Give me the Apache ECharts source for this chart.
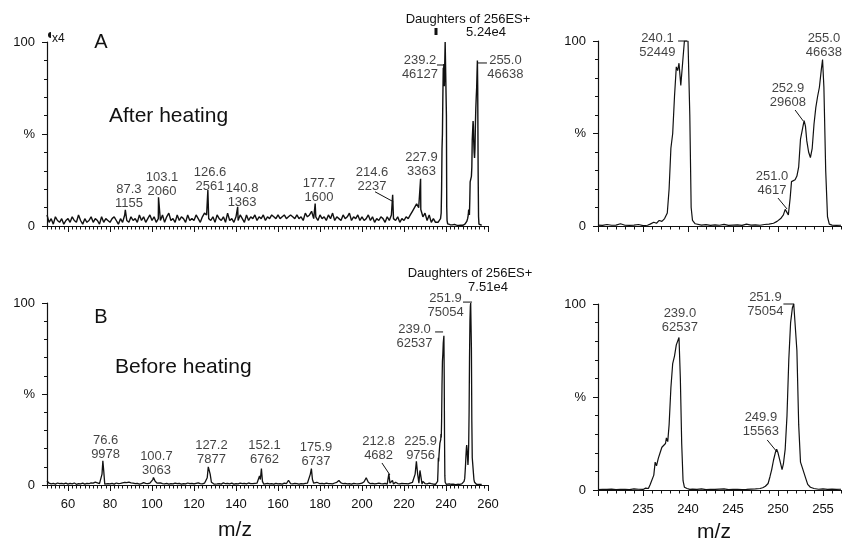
<!DOCTYPE html>
<html>
<head>
<meta charset="utf-8">
<script src="https://cdn.jsdelivr.net/npm/echarts@6/dist/echarts.min.js"></script>
<style>
  html, body { margin: 0; padding: 0; background: #fff; }
  #main { width: 842px; height: 540px; }
</style>
</head>
<body>
<div id="main"></div>
<script>
// ---- data: relative intensity (%) ----

// A (after heating), low-mass region shown x4, one value per m/z 50..235
var noiseStartA = 50
var noiseA = [
  6, 2, 4, 1, 5, 3, 2, 4, 1, 3,
  4, 2, 5, 3, 2, 6, 3, 1, 4, 2,
  3, 5, 2, 4, 3, 1, 5, 2, 4, 3,
  2, 4, 5, 3, 1, 4, 2, 6, 3, 2,
  5, 3, 4, 2, 6, 3, 5, 2, 4, 6,
  3, 5, 2, 4, 3, 6, 2, 5, 7, 3,
  4, 2, 6, 3, 5, 4, 2, 6, 3, 4,
  3, 6, 4, 2, 5, 7, 6, 4, 3, 5,
  2, 6, 4, 3, 5, 2, 7, 3, 4, 2,
  5, 3, 6, 4, 2, 6, 3, 5, 4, 6,
  3, 5, 4, 6, 3, 5, 4, 6, 5, 4,
  6, 4, 5, 6, 4, 5, 6, 5, 4, 6,
  4, 5, 3, 7, 5, 6, 8, 4, 5, 3,
  6, 4, 5, 3, 6, 4, 7, 3, 5, 4,
  3, 6, 4, 5, 7, 3, 5, 4, 6, 3,
  5, 3, 4, 6, 3, 5, 2, 4, 3, 5,
  4, 2, 5, 3, 6, 4, 3, 5, 2, 4,
  3, 5, 4, 6, 8, 10, 12, 10, 9, 5,
  7, 3, 6, 2, 4, 2
]
// labelled spikes in A
var spikesA = [
  [[87.3, 8.8]], [[103.1, 15.6]], [[126.6, 19.6]], [[140.8, 10.4]],
  [[177.7, 12.2]], [[214.6, 17.0]], [[227.9, 25.7]]
]
// A, parent region 230..257 (also right-hand panel)
var zoomA = [
  [230, 0.5], [230.5, 0.3], [231, 0.8], [231.5, 0.4], [232, 0.5], [232.5, 1.2], [233, 0.4],
  [233.5, 0.3], [234, 0.5], [234.5, 0.8], [235, 0.2], [235.5, 0.4], [235.8, 1], [236.2, 2],
  [236.5, 1.5], [236.8, 3], [237.1, 2.5], [237.4, 4], [237.7, 7], [237.9, 20], [238.1, 42],
  [238.3, 50], [238.5, 70], [238.7, 86], [238.85, 84], [239.0, 88], [239.2, 76], [239.4, 88],
  [239.6, 100], [239.8, 100], [240.0, 100], [240.2, 60], [240.35, 10], [240.5, 3], [240.8, 1.2],
  [241, 0.8], [241.5, 0.5], [242, 0.7], [242.5, 0.3], [243, 0.6], [243.5, 0.4], [244, 0.9],
  [244.5, 0.3], [245, 0.5], [245.5, 0.6], [246, 0.3], [246.5, 1], [247, 0.5], [247.5, 0.6],
  [248, 0.4], [248.5, 0.8], [249, 1], [249.5, 1.5], [249.9, 2.5], [250.3, 4], [250.6, 6],
  [250.8, 9], [251.0, 8.5], [251.15, 6], [251.35, 15], [251.5, 24], [251.7, 23], [251.9, 25],
  [252.1, 27], [252.3, 32], [252.5, 47], [252.7, 52], [252.9, 57], [253.05, 54], [253.2, 46],
  [253.4, 40], [253.6, 37], [253.8, 42], [254.0, 55], [254.2, 64], [254.4, 70], [254.6, 75],
  [254.8, 84], [254.95, 90], [255.1, 75], [255.3, 30], [255.5, 5], [255.7, 1], [256, 0.5],
  [256.5, 0.3], [257, 0.4]
]

// B (before heating), one value per m/z 50..235
var noiseStartB = 50
var noiseB = [
  2.2, 1.0, 0.6, 0.9, 0.5, 1.1, 0.7, 0.9, 0.6, 1.0,
  0.5, 0.9, 0.6, 1.1, 0.4, 0.8, 0.6, 1.0, 0.5, 0.9,
  0.7, 1.2, 1.0, 1.6, 1.2, 0.8, 0.9, 0.9, 0.6, 0.8,
  0.6, 0.9, 0.5, 1.1, 0.7, 0.9, 1.2, 1.5, 1.3, 1.6,
  1.2, 1.0, 0.7, 0.9, 0.5, 0.8, 1.3, 0.9, 0.7, 1.0,
  2.0, 3.0, 2.0, 1.5, 1.2, 0.8, 0.6, 0.9, 0.5, 0.8,
  0.6, 1.0, 0.7, 0.9, 0.5, 0.8, 0.6, 1.1, 0.7, 0.9,
  0.6, 0.9, 1.2, 0.8, 0.6, 1.0, 3.0, 8.0, 5.0, 2.0,
  0.9, 0.6, 0.8, 0.5, 1.2, 0.7, 0.9, 0.6, 1.0, 0.5,
  0.8, 0.6, 1.0, 0.7, 0.9, 0.6, 1.1, 0.8, 0.7, 0.9,
  1.0, 5.0, 6.0, 2.0, 0.7, 0.9, 0.6, 0.8, 0.5, 0.9,
  0.6, 0.8, 0.5, 1.0, 0.7, 2.6, 0.8, 0.6, 0.9, 0.7,
  0.5, 0.8, 0.6, 0.9, 1.0, 6.0, 3.0, 1.5, 2.2, 1.2,
  0.7, 0.9, 0.6, 1.0, 0.7, 0.8, 0.6, 1.1, 1.5, 2.5,
  1.2, 0.7, 0.9, 0.6, 0.8, 0.5, 0.9, 0.7, 0.6, 0.8,
  1.0, 1.8, 4.0, 1.5, 0.7, 0.9, 0.6, 0.8, 1.0, 0.7,
  0.6, 0.9, 2.0, 5.0, 1.2, 2.5, 1.5, 0.8, 0.6, 0.9,
  0.7, 0.8, 0.6, 1.0, 1.4, 5.0, 12.0, 3.0, 8.0, 2.0,
  0.8, 0.6, 1.0, 0.7, 0.5, 0.4
]
// labelled peaks in B
var peaksB = [
  [[75.5, 0.5], [76.2, 6], [76.6, 13.3], [77.0, 8], [77.5, 0.5]],
  [[99.5, 0.5], [100.4, 3], [100.7, 4.1], [101.5, 2], [102.5, 1]],
  [[125.5, 0.5], [126.3, 4], [126.8, 10], [127.2, 10.5], [127.7, 6], [128.3, 1.5], [129, 2], [129.5, 0.5]],
  [[150.5, 0.5], [151.2, 5], [151.6, 3], [152.1, 9], [152.6, 2], [153.2, 0.5]],
  [[174.8, 0.5], [175.4, 6], [175.9, 9], [176.4, 3], [177, 1], [177.8, 2], [178.5, 1.5], [179, 0.5]],
  [[212, 0.5], [212.5, 4], [212.8, 6.2], [213.3, 1], [214, 2], [214.5, 2.5], [215, 0.5]],
  [[224.8, 0.5], [225.3, 6], [225.9, 13], [226.5, 6], [227.1, 1], [227.6, 8], [228.1, 7], [228.6, 0.5]]
]
// B, parent region 230..257 (also right-hand panel)
var zoomB = [
  [230, 0.2], [230.5, 0.4], [231, 0.3], [231.5, 0.5], [232, 0.2], [232.5, 0.3], [233, 0.4],
  [233.5, 0.2], [234, 0.6], [234.5, 0.4], [235, 0.3], [235.3, 1], [235.6, 0.8], [235.8, 3],
  [236.0, 2], [236.2, 8], [236.35, 15], [236.5, 13], [236.7, 17], [236.9, 20], [237.1, 23],
  [237.3, 23], [237.5, 25], [237.6, 28], [237.75, 26], [237.9, 35], [238.1, 55], [238.3, 68],
  [238.5, 72], [238.7, 78], [238.85, 79], [239.0, 82], [239.15, 60], [239.3, 25], [239.45, 5],
  [239.6, 1.5], [239.9, 0.8], [240.2, 0.3], [240.5, 0.5], [241, 0.3], [241.5, 0.6], [242, 0.2],
  [242.5, 0.4], [243, 0.3], [243.5, 0.5], [244, 0.6], [244.5, 0.2], [245, 0.3], [245.5, 0.4],
  [246, 0.2], [246.5, 0.3], [247, 0.5], [247.5, 0.6], [248, 0.8], [248.3, 1.2], [248.6, 2],
  [248.9, 3.5], [249.1, 7], [249.3, 11], [249.5, 16], [249.7, 20], [249.85, 22], [250.0, 20],
  [250.15, 17], [250.3, 14], [250.45, 11], [250.6, 14], [250.8, 22], [251.0, 40], [251.2, 70],
  [251.4, 90], [251.6, 98], [251.75, 100], [251.95, 100], [252.1, 75], [252.3, 35], [252.5, 15],
  [252.7, 12], [252.9, 11], [253.1, 6], [253.3, 3], [253.6, 1.5], [254, 0.8], [254.5, 0.4],
  [255, 0.6], [255.5, 0.3], [256, 0.5], [256.5, 0.3], [257, 0.4]
]

// peak annotations (m/z, counts)
var annAL = [['87.3', '1155'], ['103.1', '2060'], ['126.6', '2561'], ['140.8', '1363'], ['177.7', '1600'],
  ['214.6', '2237'], ['227.9', '3363'], ['239.2', '46127'], ['255.0', '46638']]
var annAR = [['240.1', '52449'], ['255.0', '46638'], ['252.9', '29608'], ['251.0', '4617']]
var annBL = [['76.6', '9978'], ['100.7', '3063'], ['127.2', '7877'], ['152.1', '6762'], ['175.9', '6737'],
  ['212.8', '4682'], ['225.9', '9756'], ['239.0', '62537'], ['251.9', '75054']]
var annBR = [['239.0', '62537'], ['251.9', '75054'], ['249.9', '15563']]

// axis ticks
var wideMajor = [60, 80, 100, 120, 140, 160, 180, 200, 220, 240, 260]
var zoomMajor = [230, 235, 240, 245, 250, 255]
var zoomLabels = [235, 240, 245, 250, 255]

// ---- layout (data coordinates of label centres and leader lines) ----
var posAL = [[89.0, 16.0], [104.8, 22.8], [127.6, 25.3], [142.9, 16.6], [179.5, 19.3],
  [204.8, 25.5], [228.3, 33.4], [227.6, 86.4], [268.3, 86.4]]
var posAR = [[236.6, 97.8], [255.1, 97.8], [251.1, 70.8], [249.33, 23.2]]
var posBL = [[77.9, 20.6], [102.1, 12.1], [128.3, 18.1], [153.6, 18.1], [178.1, 17.0],
  [207.9, 20.1], [227.9, 20.1], [225.0, 81.6], [239.8, 98.9]]
var posBR = [[239.1, 91.1], [248.6, 99.7], [248.1, 35.5]]

var leadAL = [[[235.7, 87.5], [239.05, 87.5]], [[255.0, 88.6], [259.5, 88.6]], [[206.2, 18.6], [214.9, 13.2]]]
var leadAR = [[[238.9, 100], [239.9, 100]], [[251.9, 62.7], [252.8, 56.8]], [[250.0, 15.1], [251.0, 9.2]]]
var leadBL = [[[234.8, 84.1], [238.6, 84.1]], [[248.1, 100.5], [252.4, 100.5]], [[209.5, 12.1], [213.3, 5.5]]]
var leadBR = [[[250.6, 100], [251.8, 100]], [[248.8, 26.9], [249.9, 20.4]]]

var INK = '#111'
var FONT = '"Liberation Sans", Arial, Helvetica, sans-serif'

function range(a, b, step) {
  var out = []
  for (var v = a; v <= b + 1e-9; v += step) out.push(Math.round(v * 10) / 10)
  return out
}

// join baseline, peaks and the fine parent region into one trace
function spectrum(start, noise, shapes, fine, cut) {
  var pts = []
  noise.forEach(function (v, i) {
    var x = start + i
    if (x >= cut) return
    var inside = shapes.some(function (s) { return x >= s[0][0] && x <= s[s.length - 1][0] })
    if (!inside) pts.push([x, v])
  })
  shapes.forEach(function (s) { s.forEach(function (p) { if (p[0] < cut) pts.push(p) }) })
  fine.forEach(function (p) { if (p[0] >= cut) pts.push(p) })
  pts.sort(function (a, b) { return a[0] - b[0] })
  return pts
}

var grids = [
  { left: 47, top: 42, width: 441, height: 184 },
  { left: 47, top: 303, width: 441, height: 182 },
  { left: 598, top: 41, width: 243, height: 185 },
  { left: 598, top: 304, width: 243, height: 186 }
]

function xPair(g, min, max, major, labels, minors) {
  var base = {
    type: 'value', gridIndex: g, min: min, max: max, position: 'bottom',
    splitLine: { show: false }
  }
  return [
    Object.assign({}, base, {
      axisLine: { show: true, onZero: false, lineStyle: { color: INK, width: 1.2 } },
      axisTick: { show: true, customValues: major, length: 6, lineStyle: { color: INK, width: 1 } },
      axisLabel: labels ? { show: true, customValues: labels, color: INK, fontSize: 13, fontFamily: FONT, margin: 13 } : { show: false }
    }),
    Object.assign({}, base, {
      axisLine: { show: false },
      axisTick: { show: true, customValues: minors, length: 3.5, lineStyle: { color: INK, width: 1 } },
      axisLabel: { show: false }
    })
  ]
}

function yAx(g) {
  return {
    type: 'value', gridIndex: g, min: 0, max: 100, interval: 50,
    splitLine: { show: false },
    axisLine: { show: true, lineStyle: { color: INK, width: 1.2 } },
    axisTick: { show: true, length: 5, lineStyle: { color: INK } },
    minorTick: { show: true, splitNumber: 5, length: 3, lineStyle: { color: INK } },
    axisLabel: {
      color: INK, fontSize: 13, fontFamily: FONT, margin: 12,
      formatter: function (v) { return v === 50 ? '%' : String(v) }
    }
  }
}

var xAxes = []
  .concat(xPair(0, 50, 260, wideMajor, null, range(50, 260, 2)))
  .concat(xPair(1, 50, 260, wideMajor, wideMajor, range(50, 260, 2)))
  .concat(xPair(2, 230, 257, zoomMajor, null, range(230, 257, 1)))
  .concat(xPair(3, 230, 257, zoomMajor, zoomLabels, range(230, 257, 1)))

function traceSeries(g, data, w) {
  return {
    type: 'line', xAxisIndex: g * 2, yAxisIndex: g, data: data,
    showSymbol: false, symbol: 'none', silent: true,
    lineStyle: { color: INK, width: w }
  }
}

function labelSeries(g, ann, pos) {
  return {
    type: 'scatter', xAxisIndex: g * 2, yAxisIndex: g, clip: false, silent: true,
    symbolSize: 1, itemStyle: { color: 'rgba(0,0,0,0)' },
    data: ann.map(function (a, i) { return { name: a[0] + '\n' + a[1], value: pos[i] } }),
    label: {
      show: true, position: 'inside', color: INK, fontSize: 13, fontFamily: FONT,
      lineHeight: 14, align: 'center', verticalAlign: 'middle',
      formatter: function (p) { return p.name }
    }
  }
}

function leaderSeries(g, leads) {
  return leads.map(function (l) {
    return {
      type: 'line', xAxisIndex: g * 2, yAxisIndex: g, data: l, clip: false,
      showSymbol: false, symbol: 'none', silent: true,
      lineStyle: { color: INK, width: 1 }
    }
  })
}

var seriesA = spectrum(noiseStartA, noiseA, spikesA, zoomA, 236)
var seriesB = spectrum(noiseStartB, noiseB, peaksB, zoomB, 236)

function txt(x, y, s, size, align) {
  return {
    type: 'text', x: x, y: y, silent: true,
    style: { text: s, fill: INK, font: size + 'px ' + FONT, align: align || 'center', verticalAlign: 'middle' }
  }
}

var chart = echarts.init(document.getElementById('main'))
chart.setOption({
  animation: false,
  backgroundColor: '#fff',
  grid: grids,
  xAxis: xAxes,
  yAxis: [yAx(0), yAx(1), yAx(2), yAx(3)],
  series: [
    traceSeries(0, seriesA, 1.4),
    traceSeries(1, seriesB, 1.3),
    traceSeries(2, zoomA, 1.2),
    traceSeries(3, zoomB, 1.2),
    labelSeries(0, annAL, posAL),
    labelSeries(1, annBL, posBL),
    labelSeries(2, annAR, posAR),
    labelSeries(3, annBR, posBR)
  ].concat(leaderSeries(0, leadAL), leaderSeries(2, leadAR), leaderSeries(1, leadBL), leaderSeries(3, leadBR)),
  graphic: [
    txt(101, 42, 'A', 20),
    txt(109, 116, 'After heating', 21, 'left'),
    { type: 'sector', silent: true, shape: { cx: 51, cy: 35, r: 3, startAngle: Math.PI / 2, endAngle: Math.PI * 1.5 }, style: { fill: INK } },
    txt(52, 39, 'x4', 12, 'left'),
    txt(468, 19, 'Daughters of 256ES+', 13),
    { type: 'rect', silent: true, shape: { x: 434.5, y: 28, width: 3, height: 7 }, style: { fill: INK } },
    txt(486, 32, '5.24e4', 13),
    txt(101, 317, 'B', 20),
    txt(115, 367, 'Before heating', 21, 'left'),
    txt(470, 273, 'Daughters of 256ES+', 13),
    txt(488, 287, '7.51e4', 13),
    txt(235, 530, 'm/z', 21),
    txt(714, 532, 'm/z', 21)
  ]
})
</script>
</body>
</html>
